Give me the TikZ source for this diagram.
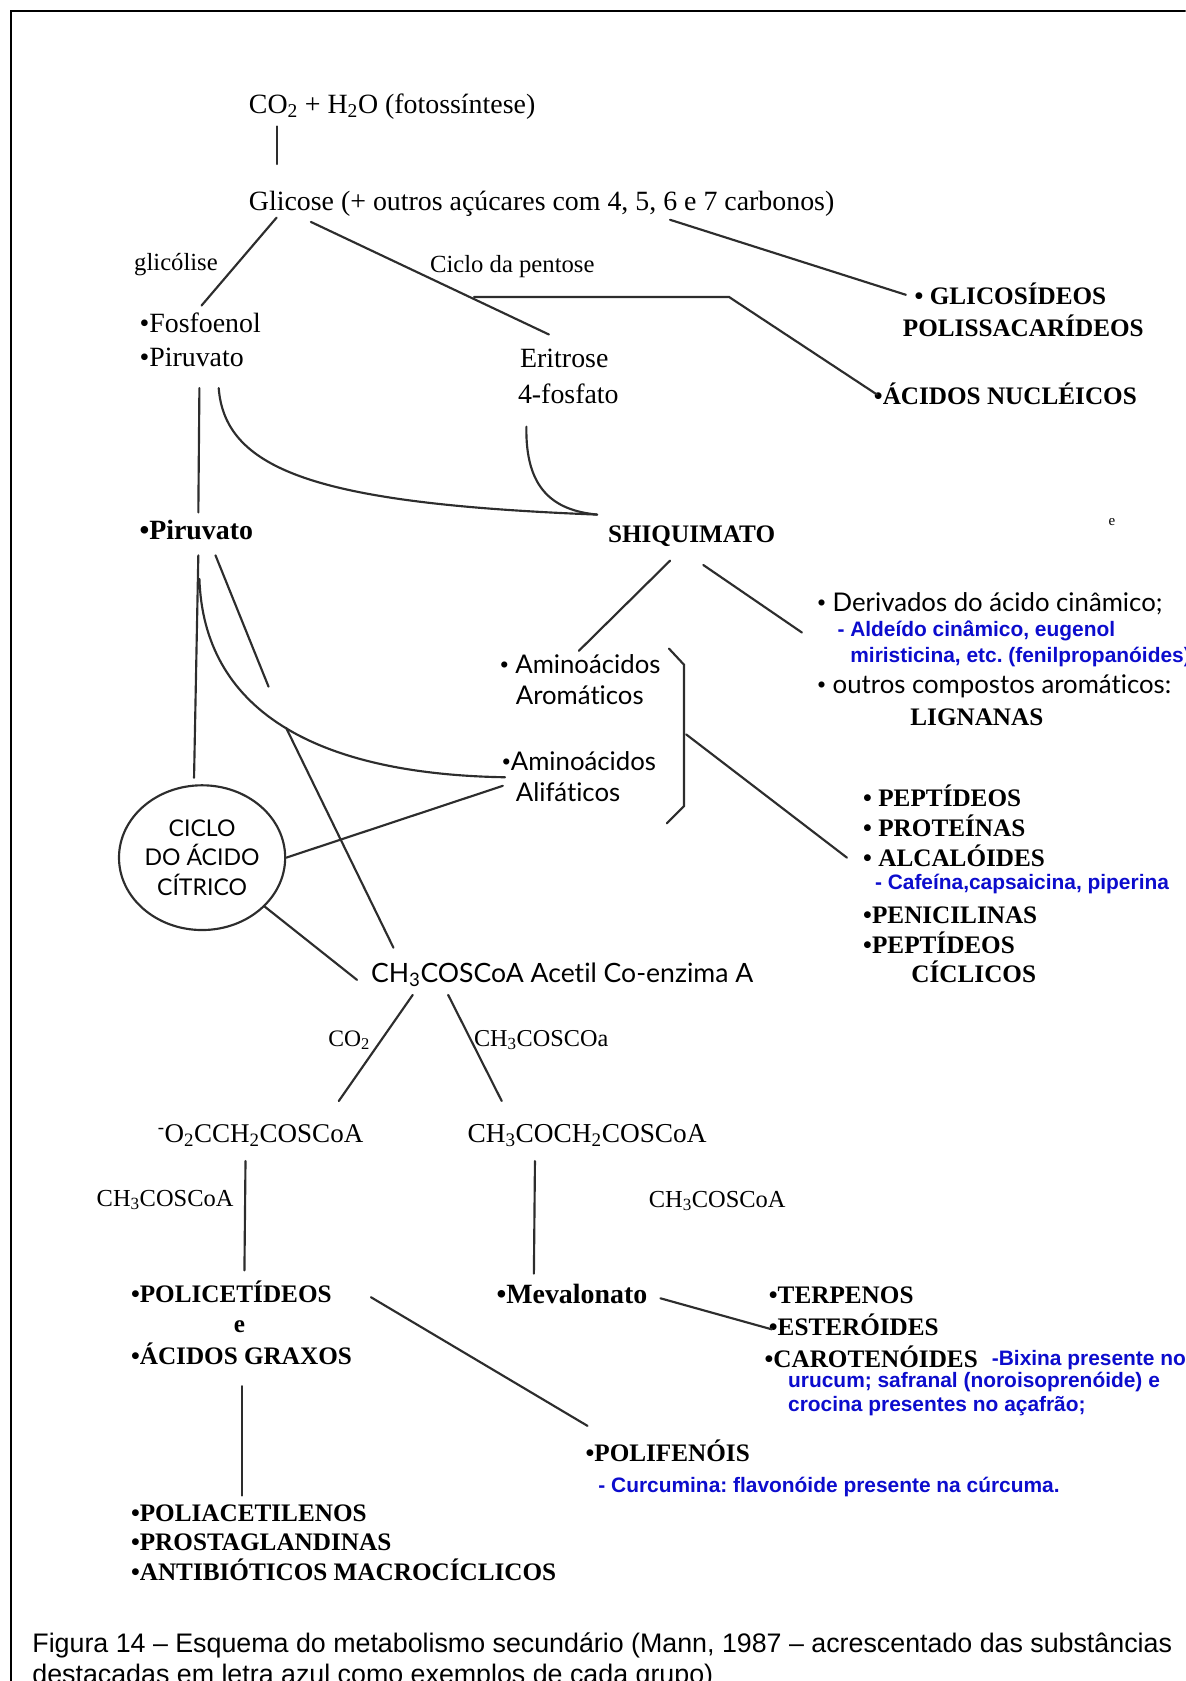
\documentclass[tikz,border=0pt]{standalone}
\usepackage{fontspec}
\setmainfont{Liberation Serif}
\newfontfamily\arialf{Liberation Sans}
\newfontfamily\optf[Ligatures=NoCommon]{Lato}
\usetikzlibrary{shapes.geometric}
\definecolor{azul}{RGB}{12,12,205}
\definecolor{traco}{RGB}{45,45,45}
\newcommand{\pto}{{\rmfamily •}}
\frenchspacing

\begin{document}
\begin{tikzpicture}[x=1pt,y=-1pt,
  every node/.style={inner sep=0pt,anchor=base west},
  txt/.style={font=\fontsize{26}{30}\selectfont},
  sml/.style={font=\fontsize{23}{27}\selectfont},
  bld/.style={font=\fontsize{23.5}{28}\selectfont\bfseries},
  bldl/.style={font=\fontsize{26}{30}\selectfont\bfseries},
  opt/.style={font=\optf\fontsize{24}{29}\selectfont},
  blu/.style={font=\arialf\fontsize{19.5}{23}\selectfont\bfseries,text=azul},
  lig/.style={draw=traco,line width=2pt,line cap=round}]
  \useasboundingbox (0,0) rectangle (1106,1568);
  \clip (0,0) rectangle (1106,1568);
  \draw[line width=2pt] (10,1568) -- (10,10) -- (1106,10);

  % glicose e acucares
  \node[txt] (co2) at (232,106) {CO\textsubscript{2} + H\textsubscript{2}O (fotossíntese)};
  \node[txt] (glic) at (232,196) {Glicose (+ outros açúcares com 4, 5, 6 e 7 carbonos)};
  \node[sml] (glicol) at (125,252) {glicólise};
  \node[sml] (pent) at (401,254) {Ciclo da pentose};
  \node[bld] (glico) at (853,284) {• GLICOSÍDEOS};
  \node[bld] (polis) at (842,314) {POLISSACARÍDEOS};
  \node[bld] (nucl) at (815,377) {•ÁCIDOS NUCLÉICOS};
  \node[txt] (fosf) at (130,310) {•Fosfoenol};
  \node[txt] (piru1) at (130,342) {•Piruvato};
  \node[txt] (erit) at (485,343) {Eritrose};
  \node[txt] (erit2) at (483,376) {4-fosfato};

  % chiquimato
  \node[bldl] (piru2) at (130,503) {•Piruvato};
  \node[bld] (shiq) at (567,506) {SHIQUIMATO};
  \node[txt,font=\fontsize{14}{16}\selectfont] (emark) at (1034,490) {e};
  \node[opt] (deriv) at (762,570) {\pto{} Derivados do ácido cinâmico;};
  \node[blu] (ald) at (781,594) {- Aldeído cinâmico, eugenol};
  \node[blu] (mir) at (793,618) {miristicina, etc. (fenilpropanóides)};
  \node[opt] (outros) at (762,647) {\pto{} outros compostos aromáticos:};
  \node[bld] (lign) at (849,677) {LIGNANAS};
  \node[opt] (aroma) at (466,628) {\pto{} Aminoácidos};
  \node[opt] (aroma2) at (481,657) {Aromáticos};
  \node[opt] (alif) at (468,719) {\pto{}Aminoácidos};
  \node[opt] (alif2) at (481,748) {Alifáticos};
  \node[bld] (pept) at (805,752) {• PEPTÍDEOS};
  \node[bld] (prot) at (805,780) {• PROTEÍNAS};
  \node[bld] (alca) at (805,808) {• ALCALÓIDES};
  \node[blu] (caf) at (816,830) {- Cafeína,capsaicina, piperina};
  \node[bld] (peni) at (805,861) {•PENICILINAS};
  \node[bld] (pcic) at (805,889) {•PEPTÍDEOS};
  \node[bld] (cicl) at (850,916) {CÍCLICOS};
  \node[draw=traco,line width=2pt,ellipse,minimum width=155pt,minimum height=135pt,
    anchor=center,align=center,font=\optf\fontsize{21.5}{27.5}\selectfont] (cac) at (188.5,800)
    {CICLO\\DO ÁCIDO\\CÍTRICO};

  % acetil CoA
  \node[opt,font=\optf\fontsize{24.8}{29}\selectfont] (acet) at (346,916) {CH\textsubscript{3}COSCoA Acetil Co-enzima A};
  \node[sml,font=\fontsize{22}{26}\selectfont] (co2b) at (306,976) {CO\textsubscript{2}};
  \node[sml,font=\fontsize{22.6}{26}\selectfont] (ch3a) at (442,976) {CH\textsubscript{3}COSCOa};
  \node[txt,font=\fontsize{25.2}{30}\selectfont] (malo) at (147,1066) {\textsuperscript{-}O\textsubscript{2}CCH\textsubscript{2}COSCoA};
  \node[txt,font=\fontsize{25.5}{30}\selectfont] (acac) at (436,1066) {CH\textsubscript{3}COCH\textsubscript{2}COSCoA};
  \node[sml,font=\fontsize{22.8}{26}\selectfont] (ch3b) at (90,1125) {CH\textsubscript{3}COSCoA};
  \node[sml,font=\fontsize{22.8}{26}\selectfont] (ch3c) at (605,1126) {CH\textsubscript{3}COSCoA};
  \node[bld] (polic) at (122,1215) {•POLICETÍDEOS};
  \node[bld] (econj) at (218,1243) {e};
  \node[bld] (graxo) at (122,1273) {•ÁCIDOS GRAXOS};
  \node[bldl] (meva) at (463,1216) {•Mevalonato};
  \node[bld] (terp) at (717,1216) {•TERPENOS};
  \node[bld] (est) at (717,1246) {•ESTERÓIDES};
  \node[bld] (carot) at (713,1276) {•CAROTENÓIDES};
  \node[blu] (bix) at (925,1274) {-Bixina presente no};
  \node[blu] (uru) at (735,1294) {urucum; safranal (noroisoprenóide) e};
  \node[blu] (cro) at (735,1317) {crocina presentes no açafrão;};
  \node[bld] (polif) at (546,1363) {•POLIFENÓIS};
  \node[blu] (curc) at (558,1392) {- Curcumina: flavonóide presente na cúrcuma.};
  \node[bld] (polia) at (122,1419) {•POLIACETILENOS};
  \node[bld] (prost) at (122,1446) {•PROSTAGLANDINAS};
  \node[bld] (anti) at (122,1474) {•ANTIBIÓTICOS MACROCÍCLICOS};

  % legenda
  \node[font=\arialf\fontsize{25}{29}\selectfont] (cap1) at (30,1541)
    {Figura 14 – Esquema do metabolismo secundário (Mann, 1987 – acrescentado das substâncias};
  \node[font=\arialf\fontsize{25}{29}\selectfont] (cap2) at (30,1570)
    {destacadas em letra azul como exemplos de cada grupo)};

  % ligacoes
  \draw[lig] ([shift={(26,12)}]co2.base west) -- ([shift={(26,-43)}]glic.base west);
  \draw[lig] ([shift={(26,7)}]glic.base west) -- ([shift={(58,-25)}]fosf.base west);
  \draw[lig] ([shift={(58,11)}]glic.base west) -- ([shift={(27,-31)}]erit.base west);
  \draw[lig] ([shift={(41,23)}]pent.base west) -- ++(238,0) -- ([shift={(3,-9)}]nucl.base west);
  \draw[lig] ([shift={(393,9)}]glic.base west) -- ([shift={(-8,-9)}]glico.base west);
  \draw[lig] ([shift={(56,20)}]piru1.base west) -- ([shift={(55,-25)}]piru2.base west);
  \draw[lig] ([shift={(74,20)}]piru1.base west) .. controls +(6,78) and +(-257,-10) .. ([shift={(-10,-26)}]shiq.base west);
  \draw[lig] ([shift={(8,22)}]erit2.base west) .. controls +(-1,57) and +(-42,-4) .. ([shift={(-10,-26)}]shiq.base west);
  \draw[lig] ([shift={(58,17)}]shiq.base west) -- ([shift={(74,-21)}]aroma.base west);
  \draw[lig] ([shift={(89,21)}]shiq.base west) -- ([shift={(-14,20)}]deriv.base west);
  \draw[lig] ([shift={(158,-23)}]aroma.base west) -- ++(14,15) -- ++(0,132) -- ++(-16,16);
  \draw[lig] ([shift={(174,57)}]aroma.base west) -- ([shift={(-15,-8)}]alca.base west);
  \draw[lig] ([shift={(55,15)}]piru2.base west) -- ([shift={(-7.5,-6)}]cac.north);
  \draw[lig] ([shift={(71,15)}]piru2.base west) -- ++(49.5,122.5) ++(16.4,38.4) -- ([shift={(21,-32)}]acet.base west);
  \draw[lig] ([shift={(56,37)}]piru2.base west) .. controls +(4,120) and +(-181,-3) .. ([shift={(3,6)}]alif.base west);
  \draw[lig] (cac.east) -- ([shift={(1,14)}]alif.base west);
  \draw[lig] (cac.-38) -- ([shift={(-13,-2)}]acet.base west);
  \draw[lig] ([shift={(39,12)}]acet.base west) -- ([shift={(169,-39)}]malo.base west);
  \draw[lig] ([shift={(72,12)}]acet.base west) -- ([shift={(32,-39)}]acac.base west);
  \draw[lig] ([shift={(82,17)}]malo.base west) -- ([shift={(106,-30)}]polic.base west);
  \draw[lig] ([shift={(63,17)}]acac.base west) -- ([shift={(35,-28)}]meva.base west);
  \draw[lig] ([shift={(153,-5)}]meva.base west) -- ([shift={(3,-6)}]est.base west);
  \draw[lig] ([shift={(224,-5)}]polic.base west) -- ([shift={(2,-33)}]polif.base west);
  \draw[lig] ([shift={(104,20)}]graxo.base west) -- ([shift={(104,-24)}]polia.base west);
\end{tikzpicture}
\end{document}
